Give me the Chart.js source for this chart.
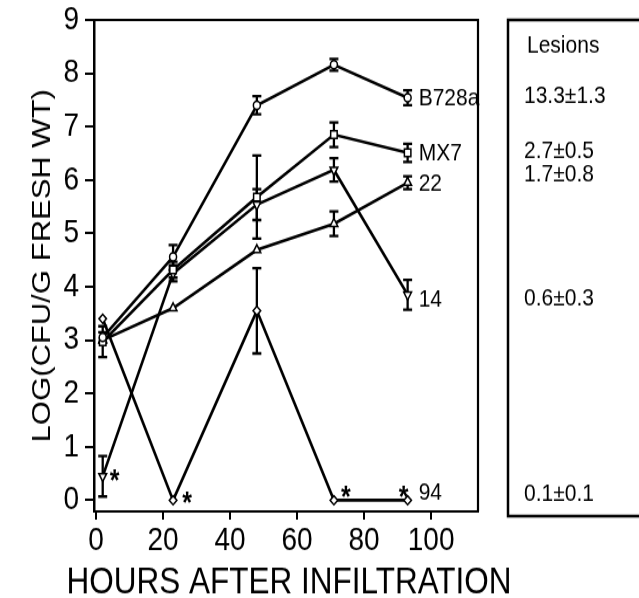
<!DOCTYPE html>
<html>
<head>
<meta charset="utf-8">
<script src="https://cdn.jsdelivr.net/npm/chart.js@4"></script>
<style>
  html, body { margin: 0; padding: 0; background: #fff; width: 639px; height: 598px; overflow: hidden; }
  /* the scan is taller than it is wide, so the canvas is stretched a bit */
  #chart { display: block; transform-origin: 0 0; transform: scaleY(1.1703); }
</style>
</head>
<body>
<canvas id="chart" width="639" height="511" style="width:639px;height:511px"></canvas>
<script>
const hours = [2, 23, 48, 71, 93];

const b728a    = [3.05, 4.56, 7.40, 8.16, 7.54];
const b728aErr = [0.10, 0.22, 0.17, 0.11, 0.14];
const mx7      = [2.97, 4.32, 5.68, 6.85, 6.51];
const mx7Err   = [0.29, 0.15, 0.78, 0.23, 0.17];
const s22      = [3.00, 3.60, 4.69, 5.18, 5.95];
const s22Err   = [0, 0, 0, 0.23, 0.12];
const s14      = [0.45, 4.25, 5.54, 6.19, 3.85];
const s14Err   = [0.38, 0.15, 0.29, 0.22, 0.28];
const s94      = [3.40, 0, 3.55, 0, 0];
const s94Err   = [0, 0, 0.80, 0, 0];

const names   = ['B728a', 'MX7', '22', '14', '94'];
const lesions = ['13.3±1.3', '2.7±0.5', '1.7±0.8', '0.6±0.3', '0.1±0.1'];
// points marked with an asterisk: [series, point index]
const starred = [['14', 0], ['94', 1], ['94', 3], ['94', 4]];

const yTicks = [0, 1, 2, 3, 4, 5, 6, 7, 8, 9];
const xTicks = [0, 20, 40, 60, 80, 100];
const xTitle = 'HOURS AFTER INFILTRATION';
const yTitle = 'LOG(CFU/G FRESH WT)';

const font = "'Liberation Sans', Arial, sans-serif";

let series = [
  { name: names[0], values: b728a, errors: b728aErr, style: 'circle', rot: 0, r: 3.5 },
  { name: names[1], values: mx7, errors: mx7Err, style: 'rect', rot: 0, r: 4.6 },
  { name: names[2], values: s22, errors: s22Err, style: 'triangle', rot: 0, r: 4.5 },
  { name: names[3], values: s14, errors: s14Err, style: 'triangle', rot: 180, r: 4.5 },
  { name: names[4], values: s94, errors: s94Err, style: 'rectRot', rot: 0, r: 3.8 }
];

// label / lesion text nudges (px, canvas units)
let labelDy = [1, 1, 1, 4.7, -6.4];
let lesionDy = [-1.7, -1.7, -6.4, 3.4, -5.6];
let starShift = [[12, -2], [14, -4], [12, -9], [-4, -9]];

function pointPx(chart, si, i) {
  let s = series[si];
  return {
    x: chart.scales.x.getPixelForValue(hours[i]),
    y: chart.scales.y.getPixelForValue(s.values[i])
  };
}

const decor = {
  id: 'decor',
  beforeDatasetsDraw(chart) {
    let ctx = chart.ctx;
    let ys = chart.scales.y;
    ctx.save();
    ctx.strokeStyle = '#000';
    ctx.lineWidth = 2.3;
    series.forEach((s, si) => {
      s.values.forEach((v, i) => {
        let e = s.errors[i];
        if (!e) return;
        let px = pointPx(chart, si, i).x;
        let top = ys.getPixelForValue(v + e);
        let bot = ys.getPixelForValue(v - e);
        ctx.beginPath();
        ctx.moveTo(px, top); ctx.lineTo(px, bot);
        ctx.moveTo(px - 4.5, top); ctx.lineTo(px + 4.5, top);
        ctx.moveTo(px - 4.5, bot); ctx.lineTo(px + 4.5, bot);
        ctx.stroke();
      });
    });
    ctx.restore();
  },
  afterDraw(chart) {
    let ctx = chart.ctx;
    let a = chart.chartArea;
    ctx.save();
    ctx.strokeStyle = '#000';
    ctx.fillStyle = '#000';

    // top and right edge of the plot frame
    ctx.lineWidth = 2.2;
    ctx.beginPath();
    ctx.moveTo(a.left, a.top);
    ctx.lineTo(a.right, a.top);
    ctx.lineTo(a.right, a.bottom);
    ctx.stroke();

    // x title, drawn here so that it may run wider than the plot
    ctx.font = '31.5px ' + font;
    ctx.textAlign = 'center';
    ctx.textBaseline = 'middle';
    ctx.fillText(xTitle, (a.left + a.right) / 2 + 3, 498.7);

    // series names at the last point
    ctx.font = '21px ' + font;
    ctx.textAlign = 'left';
    series.forEach((s, si) => {
      let p = pointPx(chart, si, hours.length - 1);
      ctx.fillText(s.name, p.x + 11, p.y + labelDy[si]);
    });

    // asterisks
    ctx.font = 'bold 25px ' + font;
    ctx.textAlign = 'center';
    ctx.textBaseline = 'alphabetic';
    starred.forEach((st, k) => {
      let si = names.indexOf(st[0]);
      let p = pointPx(chart, si, st[1]);
      ctx.fillText('*', p.x + starShift[k][0], p.y + starShift[k][1] + 0.57 * 25);
    });

    // lesions panel
    ctx.lineWidth = 2.5;
    ctx.strokeRect(508, a.top, 160, a.bottom - a.top + 4);
    ctx.textAlign = 'left';
    ctx.textBaseline = 'middle';
    ctx.font = '21px ' + font;
    ctx.fillText('Lesions', 527, 39.3);
    lesions.forEach((t, si) => {
      let p = pointPx(chart, si, hours.length - 1);
      ctx.fillText(t, 524, p.y + lesionDy[si]);
    });
    ctx.restore();
  }
};

let ctx = document.getElementById('chart').getContext('2d');
let chart = new Chart(ctx, {
  type: 'line',
  data: {
    datasets: series.map(s => ({
      label: s.name,
      data: hours.map((h, i) => ({ x: h, y: s.values[i] })),
      borderColor: '#000',
      borderWidth: 2.6,
      tension: 0,
      fill: false,
      pointStyle: s.style,
      pointRotation: s.rot,
      pointRadius: s.r,
      pointBorderWidth: 1.5,
      pointBorderColor: '#000',
      pointBackgroundColor: '#fff'
    }))
  },
  options: {
    responsive: false,
    animation: false,
    events: [],
    layout: { padding: { left: 0, top: 17, right: 161, bottom: 0 } },
    plugins: { legend: { display: false }, tooltip: { enabled: false } },
    scales: {
      x: {
        type: 'linear',
        min: -0.6,
        max: 114,
        afterBuildTicks: s => { s.ticks = xTicks.map(v => ({ value: v })); },
        afterFit: s => { s.height = 74; s.paddingLeft = 0; s.paddingRight = 0; },
        ticks: { color: '#000', font: { family: font, size: 28 }, padding: 1, maxRotation: 0 },
        grid: { display: true, drawOnChartArea: false, drawTicks: true, tickLength: 7, color: '#000', lineWidth: 2 },
        border: { display: true, color: '#000', width: 2 },
        title: { display: false }
      },
      y: {
        min: -0.21,
        max: 9,
        afterBuildTicks: s => { s.ticks = yTicks.map(v => ({ value: v })); },
        afterFit: s => { s.width = 94; s.paddingTop = 0; s.paddingBottom = 0; },
        ticks: { color: '#000', font: { family: font, size: 28 }, padding: 6 },
        grid: { display: true, drawOnChartArea: false, drawTicks: true, tickLength: 9, color: '#000', lineWidth: 2 },
        border: { display: true, color: '#000', width: 2.5 },
        title: {
          display: true,
          text: yTitle,
          color: '#000',
          font: { family: font, size: 26.5 },
          padding: { top: 26.6, bottom: 0 }
        }
      }
    }
  },
  plugins: [decor]
});
</script>
</body>
</html>
